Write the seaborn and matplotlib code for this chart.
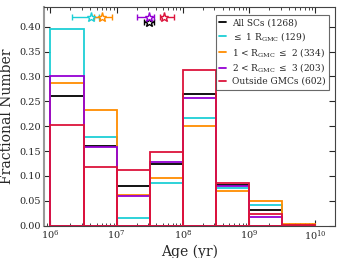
import numpy as np
import pandas as pd
import matplotlib
matplotlib.use("Agg")
import matplotlib.pyplot as plt
import seaborn as sns

# log10(age) bin edges and fractions
edges = [6.0, 6.5, 7.0, 7.5, 8.0, 8.5, 9.0, 9.5, 10.0]
labels = ["All SCs (1268)",
          r"$\leq$ 1 R$_{\rm GMC}$ (129)",
          r"1 < R$_{\rm GMC}$ $\leq$ 2 (334)",
          r"2 < R$_{\rm GMC}$ $\leq$ 3 (203)",
          "Outside GMCs (602)"]
colors = ["black", "#1ccfd6", "darkorange", "darkviolet", "crimson"]

frac_all = [0.260, 0.161, 0.080, 0.125, 0.264, 0.082, 0.032, 0.001]
frac_in1 = [0.395, 0.178, 0.016, 0.085, 0.217, 0.076, 0.041, 0.000]
frac_1to2 = [0.287, 0.233, 0.062, 0.096, 0.200, 0.070, 0.050, 0.003]
frac_2to3 = [0.300, 0.158, 0.059, 0.128, 0.256, 0.080, 0.017, 0.000]
frac_out = [0.202, 0.118, 0.111, 0.148, 0.312, 0.086, 0.023, 0.002]
fracs = [frac_all, frac_in1, frac_1to2, frac_2to3, frac_out]

# median ages (log10) with ranges, drawn as stars at the top
med_logage = [7.49, 6.61, 6.78, 7.49, 7.71]
med_lo = [7.42, 6.33, 6.66, 7.31, 7.65]
med_hi = [7.56, 6.74, 6.93, 7.57, 7.86]
med_y = [0.409, 0.420, 0.420, 0.420, 0.420]

sns.set_style("ticks")
plt.rcParams['font.family'] = ['DejaVu Serif']
plt.rcParams['mathtext.fontset'] = 'dejavuserif'

fig = plt.figure(figsize=(3.44, 2.58), dpi=100)
ax = fig.add_axes([0.128, 0.125, 0.846, 0.849])

centers = [10 ** ((a + b) / 2) for a, b in zip(edges[:-1], edges[1:])]
for f, c, lab in zip(fracs, colors, labels):
    df = pd.DataFrame({'age': centers, 'w': f})
    sns.histplot(data=df, x='age', weights='w', bins=list(edges), log_scale=True,
                 element='bars', fill=False, color=c, linewidth=1.3, ax=ax)

for m, lo, hi, y, c in zip(med_logage, med_lo, med_hi, med_y, colors):
    x = 10 ** m
    ax.errorbar([x], [y], xerr=[[x - 10 ** lo], [10 ** hi - x]], fmt='*',
                color=c, ms=6.5, mfc='white', mew=1.0, elinewidth=1.0,
                capsize=2, capthick=1.0)

ax.set_xscale('log')
ax.set_xlim(8e5, 2e10)
ax.set_ylim(0, 0.44)
ax.set_yticks(np.arange(0, 0.41, 0.05))
ax.set_xlabel('Age (yr)', fontsize=10, labelpad=1)
ax.set_ylabel('Fractional Number', fontsize=10, labelpad=4)
ax.tick_params(which='both', direction='in', top=True, right=True, labelsize=7, pad=2)
ax.tick_params(which='major', length=4)
ax.tick_params(which='minor', length=2)
for s in ax.spines.values():
    s.set_color('#444444')
ax.spines['left'].set_color('#999999')
ax.spines['left'].set_linewidth(1.5)

handles = [plt.Line2D([], [], color=c, lw=1.3) for c in colors]
leg = ax.legend(handles, labels, loc='upper right', fontsize=6.5, frameon=True,
                fancybox=False, edgecolor='#444444', handlelength=0.8,
                handletextpad=0.6, labelspacing=0.3, borderpad=0.4,
                bbox_to_anchor=(0.995, 0.985))
leg.get_frame().set_linewidth(0.8)

fig.savefig('out.png', dpi=100)
